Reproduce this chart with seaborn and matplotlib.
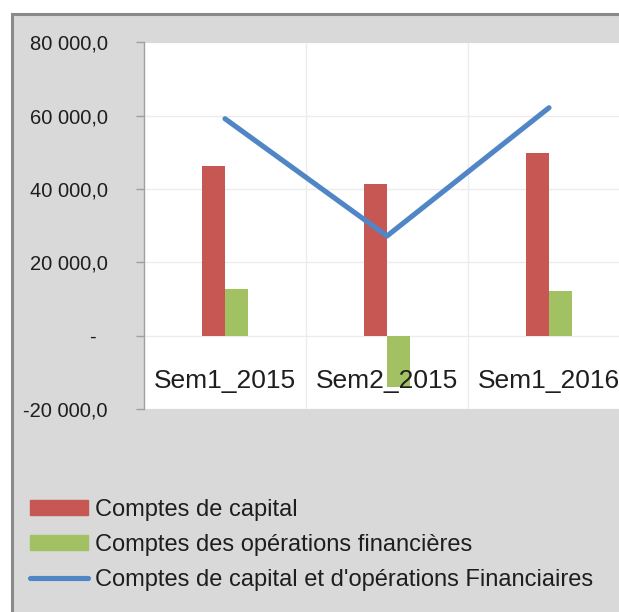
import matplotlib
matplotlib.use("Agg")
import matplotlib.pyplot as plt
import seaborn as sns
import pandas as pd
from matplotlib.patches import Rectangle, Patch
from matplotlib.lines import Line2D
from matplotlib.ticker import FuncFormatter

categories = ["Sem1_2015", "Sem2_2015", "Sem1_2016"]
capital = [46400, 41500, 49900]
financial = [12700, -13900, 12300]
total = [59200, 27200, 62200]
series_names = ["Comptes de capital", "Comptes des opérations financières",
                "Comptes de capital et d'opérations Financiaires"]
yticks = [-20000, 0, 20000, 40000, 60000, 80000]

RED = "#c65752"
GREEN = "#a1c163"
BLUE = "#5086c6"
TXT = "#1e1e1e"

sns.set_theme(style="white")
plt.rcParams["font.family"] = ["Liberation Sans Narrow", "Liberation Sans", "DejaVu Sans"]

fig = plt.figure(figsize=(6.19, 6.12), dpi=100, facecolor="white")
W, H = 619, 612
fig.add_artist(Rectangle((12 / W, -0.01), 1.1, 1.01 - 14 / H, transform=fig.transFigure,
                         facecolor="#d9d9d9", edgecolor="#8a8a8a", lw=2.2, zorder=0))

ax = fig.add_axes([144 / W, 1 - 409 / H, 486 / W, (409 - 42.5) / H])
ax.set_facecolor("white")

df = pd.DataFrame({
    "cat": categories * 2,
    "val": capital + financial,
    "serie": [series_names[0]] * 3 + [series_names[1]] * 3,
})
sns.barplot(data=df, x="cat", y="val", hue="serie", order=categories,
            hue_order=series_names[:2], palette=[RED, GREEN], width=0.29,
            saturation=1, errorbar=None, ax=ax, legend=False, linewidth=0, zorder=3)
sns.pointplot(x=categories, y=total, order=categories, color=BLUE, markers="",
              linewidth=3.7, errorbar=None, ax=ax, zorder=4)
for ln in ax.lines:
    ln.set_solid_capstyle("round")

ax.set_xlim(-0.5, 2.5)
ax.set_ylim(-20000, 80000)
ax.set_yticks(yticks)

def fmt(v, pos):
    if v == 0:
        return "-  "
    s = f"{abs(int(v)):,}".replace(",", " ") + ",0"
    return ("-" if v < 0 else "") + s

ax.yaxis.set_major_formatter(FuncFormatter(fmt))
ax.tick_params(axis="y", which="major", length=6, width=1, color="#a0a0a0",
               pad=20, labelsize=14.5, labelcolor=TXT, left=True)
ax.set_xticks([0.5, 1.5])
ax.tick_params(axis="x", length=0, labelbottom=False)
ax.grid(True, which="major", color="#ececec", lw=1, zorder=0)
ax.set_axisbelow(True)
for s in ["top", "right", "bottom"]:
    ax.spines[s].set_visible(False)
ax.spines["left"].set_color("#a0a0a0")
ax.spines["left"].set_linewidth(1)
ax.set_xlabel("")
ax.set_ylabel("")

for i, c in enumerate(categories):
    ax.text(i, -12300, c, ha="center", va="center", fontsize=19, color=TXT, zorder=5)

handles = [Patch(facecolor=RED, edgecolor=RED),
           Patch(facecolor=GREEN, edgecolor=GREEN),
           Line2D([0], [0], color=BLUE, lw=3.7, solid_capstyle="round")]
fig.legend(handles, series_names, loc="upper left", bbox_to_anchor=(18 / W, 1 - 487 / H),
           frameon=False, fontsize=17, handlelength=2.45, handleheight=0.65,
           handletextpad=0.3, labelspacing=0.55, labelcolor=TXT, borderpad=0)

fig.savefig("out.png", dpi=100, facecolor="white")
